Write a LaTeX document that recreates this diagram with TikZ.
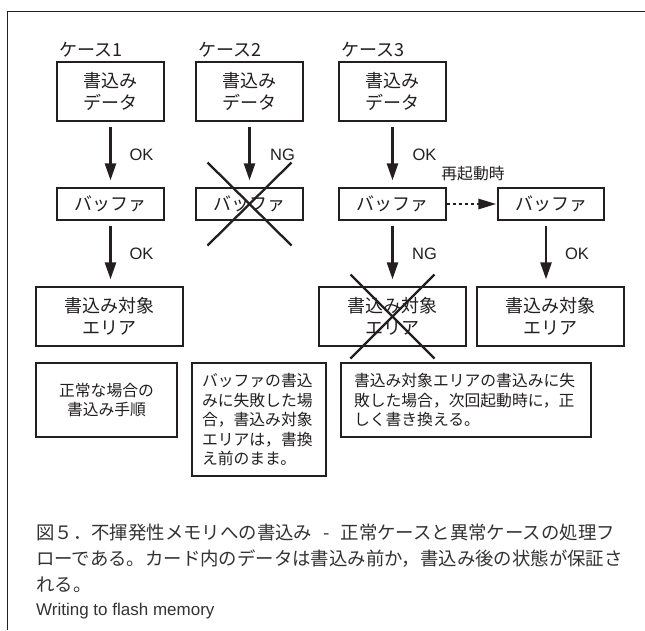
\documentclass[tikz,border=0pt]{standalone}
\usepackage{fontspec}
\setmainfont{Liberation Sans}
\newfontfamily\jp{Noto Sans CJK JP}
\usetikzlibrary{arrows.meta}
\definecolor{ink}{HTML}{231F20}
\definecolor{capink}{HTML}{333333}
\begin{document}
\begin{tikzpicture}[x=1pt,y=-1pt,
  box/.style={draw=ink, line width=1.3pt, inner sep=0pt, text=ink,
    font=\jp\fontsize{18}{22}\selectfont, align=center},
  databox/.style={box, minimum width=107pt, minimum height=59pt},
  bufbox/.style={box, minimum width=107pt, minimum height=32pt},
  areabox/.style={box, minimum width=147pt, minimum height=59pt},
  descbox/.style={draw=ink, line width=1.3pt, inner ysep=0pt, text=ink,
    font=\jp\fontsize{15.8}{19.5}\selectfont},
  casetitle/.style={anchor=west, inner sep=0pt, text=ink, font=\jp\fontsize{18}{22}\selectfont},
  lab/.style={text=ink, font=\fontsize{16.5}{19}\selectfont},
  arr/.style={draw=ink, line width=2.6pt, -{Triangle[length=17pt,width=11pt]},
    shorten <=5.5pt, shorten >=7pt},
  dotarr/.style={draw=ink, line width=2.7pt, dash pattern=on 3pt off 3pt,
    -{Triangle[length=18pt,width=10pt]}, shorten >=1pt},
  xline/.style={draw=ink, line width=2.3pt},
  caption/.style={anchor=west, inner sep=0pt, text=capink, font=\jp\fontsize{18.4}{22}\selectfont}
]
\useasboundingbox (0,0) rectangle (645,630);
\fill[white] (0,0) rectangle (645,630);

% frame
\draw[ink, line width=1.2pt] (645,11.7) -- (7.3,11.7) -- (7.3,630);

% case titles
\node[casetitle] (t1) at (59,50) {ケース1};
\node[casetitle] (t2) at (198,50) {ケース2};
\node[casetitle] (t3) at (341,50) {ケース3};

% data boxes
\node[databox] (A1) at (110.5,91.5) {書込み\\データ};
\node[databox] (A2) at (249.5,91.5) {書込み\\データ};
\node[databox] (A3) at (392.5,91.5) {書込み\\データ};

% buffer boxes
\node[bufbox] (B1) at (110.5,204) {バッファ};
\node[bufbox] (B2) at (249.5,204) {バッファ};
\node[bufbox] (B3) at (392.5,204) {バッファ};
\node[bufbox, minimum width=106pt] (B4) at (551,204) {バッファ};

% target areas
\node[areabox] (R1) at (109.5,316.5) {書込み対象\\エリア};
\node[areabox] (R3) at (392.5,316.5) {書込み対象\\エリア};
\node[areabox] (R4) at (550.5,316.5) {書込み対象\\エリア};

% arrows
\draw[arr] (A1) -- node[lab, xshift=31pt] {OK} (B1);
\draw[arr] (A2) -- node[lab, xshift=33pt] {NG} (B2);
\draw[arr] (A3) -- node[lab, xshift=32pt] {OK} (B3);
\draw[arr] (B1.south) -- node[lab, xshift=31pt] {OK} (B1.south |- R1.north);
\draw[arr] (B3.south) -- node[lab, xshift=32pt] {NG} (B3.south |- R3.north);
\draw[arr] ([xshift=-5pt]B4.south) -- node[lab, xshift=31pt] {OK} ([xshift=-5pt]B4.south |- R4.north);

% restart dotted arrow
\draw[dotarr] (B3.east) -- (B4.west);
\node[text=ink, font=\jp\fontsize{15.8}{19}\selectfont] (restart) at (473,174) {再起動時};

% crosses
\draw[xline] ([xshift=-42pt,yshift=41.5pt]B2.center) -- ([xshift=42pt,yshift=-41.5pt]B2.center);
\draw[xline] ([xshift=42pt,yshift=41.5pt]B2.center) -- ([xshift=-42pt,yshift=-41.5pt]B2.center);
\draw[xline] ([xshift=-42pt,yshift=42pt]R3.center) -- ([xshift=42pt,yshift=-42pt]R3.center);
\draw[xline] ([xshift=42pt,yshift=42pt]R3.center) -- ([xshift=-42pt,yshift=-42pt]R3.center);

% descriptions
\node[descbox, minimum width=141pt, minimum height=74pt, align=center] (D1) at (106.5,400)
  {正常な場合の\\書込み手順};
\node[descbox, inner xsep=10pt, text width=114pt, minimum height=113pt, align=left] (D2) at (259,419.5)
  {バッファの書込\\みに失敗した場\\合，書込み対象\\エリアは，書換\\え前のまま。};
\node[descbox, inner xsep=13pt, text width=224pt, minimum height=74pt, align=left] (D3) at (466,400)
  {書込み対象エリアの書込みに失\\敗した場合，次回起動時に，正\\しく書き換える。};

% caption
\node[caption] (c1) at (36,533) {図５．不揮発性メモリへの書込み\hspace{0.6em}-\hspace{0.6em}正常ケースと異常ケースの処理フ};
\node[caption] (c2) at (36,559) {ローである。カード内のデータは書込み前か，書込み後の状態が保証さ};
\node[caption] (c3) at (36,585) {れる。};
\node[anchor=west, inner sep=0pt, text=capink, font=\fontsize{17}{19}\selectfont] (c4) at (36,611) {Writing to flash memory};
\end{tikzpicture}
\end{document}
